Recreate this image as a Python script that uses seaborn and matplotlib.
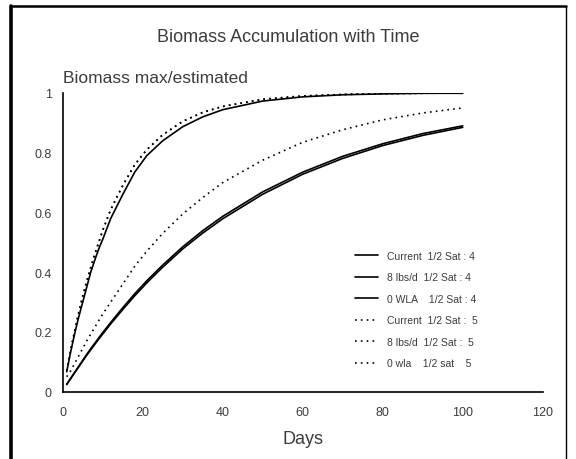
import matplotlib
matplotlib.use("Agg")
import matplotlib.pyplot as plt
import pandas as pd
import seaborn as sns
from matplotlib.lines import Line2D

# Simulated biomass (fraction of maximum) by day for each scenario
days = [1, 2, 3, 4, 5, 6, 7, 8, 9, 10, 12, 15, 18, 21, 25, 30, 35, 40, 50, 60, 70, 80, 90, 100]

current_sat4 = [0.025, 0.045, 0.065, 0.085, 0.105, 0.125, 0.144, 0.162, 0.180, 0.198, 0.232,
                0.281, 0.328, 0.371, 0.424, 0.485, 0.539, 0.587, 0.669, 0.735, 0.788, 0.830,
                0.864, 0.890]
lbs8_sat4 = [0.024, 0.044, 0.064, 0.083, 0.103, 0.122, 0.140, 0.158, 0.176, 0.193, 0.227,
             0.275, 0.321, 0.364, 0.417, 0.478, 0.531, 0.579, 0.661, 0.728, 0.781, 0.824,
             0.858, 0.885]
wla0_sat4 = [0.067, 0.134, 0.195, 0.250, 0.300, 0.350, 0.400, 0.440, 0.478, 0.510, 0.580,
             0.660, 0.735, 0.790, 0.840, 0.887, 0.920, 0.944, 0.973, 0.987, 0.994, 0.997,
             0.999, 0.999]
current_sat5 = [0.050, 0.070, 0.095, 0.120, 0.145, 0.170, 0.193, 0.215, 0.238, 0.260, 0.300,
                0.360, 0.420, 0.470, 0.530, 0.595, 0.650, 0.700, 0.775, 0.835, 0.877, 0.910,
                0.933, 0.950]
lbs8_sat5 = [0.070, 0.140, 0.205, 0.265, 0.320, 0.370, 0.415, 0.460, 0.500, 0.540, 0.610,
             0.690, 0.760, 0.810, 0.860, 0.905, 0.935, 0.955, 0.979, 0.990, 0.995, 0.998,
             0.999, 1.000]
wla0_sat5 = [0.070, 0.140, 0.205, 0.265, 0.320, 0.370, 0.415, 0.460, 0.500, 0.540, 0.610,
             0.690, 0.760, 0.810, 0.860, 0.905, 0.935, 0.955, 0.979, 0.990, 0.995, 0.998,
             0.999, 1.000]

labels = ["Current  1/2 Sat : 4", "8 lbs/d  1/2 Sat : 4", "0 WLA    1/2 Sat : 4",
          "Current  1/2 Sat :  5", "8 lbs/d  1/2 Sat :  5", "0 wla    1/2 sat    5"]
values = [current_sat4, lbs8_sat4, wla0_sat4, current_sat5, lbs8_sat5, wla0_sat5]

x_ticks = [0, 20, 40, 60, 80, 100, 120]
y_ticks = [0, 0.2, 0.4, 0.6, 0.8, 1]
y_tick_labels = ["0", "0.2", "0.4", "0.6", "0.8", "1"]

frames = []
for name, vals in zip(labels, values):
    frames.append(pd.DataFrame({"Day": days, "Biomass": vals, "Series": name}))
df = pd.concat(frames, ignore_index=True)

sns.set_style("white")
plt.rcParams["font.family"] = ["Liberation Sans", "DejaVu Sans"]
text_col = "#3c3c3c"

fig = plt.figure(figsize=(5.76, 4.60), dpi=100)
ax = fig.add_axes([0.1089, 0.1463, 0.8333, 0.6494])

DOT = (1, 2.5)
dashes = {name: ("" if "4" in name.split(":")[-1] else DOT) for name in labels}
sns.lineplot(data=df, x="Day", y="Biomass", hue="Series", style="Series",
             palette={n: "black" for n in labels}, dashes=dashes,
             linewidth=1.2, legend=False, ax=ax, sort=False)

ax.set_xlim(0, 120)
ax.set_ylim(0, 1)
ax.set_xticks(x_ticks)
ax.set_xticklabels([str(t) for t in x_ticks])
ax.set_yticks(y_ticks)
ax.set_yticklabels(y_tick_labels)
ax.tick_params(axis="both", direction="in", length=5, width=1.2, colors="black",
               labelcolor=text_col, labelsize=9)
ax.tick_params(axis="x", pad=10)
ax.tick_params(axis="y", pad=8)
for side in ("top", "right"):
    ax.spines[side].set_visible(False)
for side in ("left", "bottom"):
    ax.spines[side].set_linewidth(1.2)
    ax.spines[side].set_color("black")
ax.set_xlabel("Days", fontsize=13, color=text_col, labelpad=9)
ax.set_ylabel("")

fig.text(0.5, 0.918, "Biomass Accumulation with Time", ha="center", va="center",
         fontsize=13, color=text_col)
fig.text(0.1089, 0.812, "Biomass max/estimated", ha="left", va="bottom",
         fontsize=12.5, color=text_col)

handles = [Line2D([], [], color="black", linewidth=1.2,
                  linestyle="-" if dashes[n] == "" else (0, DOT)) for n in labels]
ax.legend(handles, labels, loc="upper left", bbox_to_anchor=(0.60, 0.485),
          frameon=False, fontsize=7.5, labelcolor=text_col, handlelength=2.2,
          handletextpad=0.9, labelspacing=1.1, borderaxespad=0)

# Page frame around the chart
fig.add_artist(Line2D([11 / 576, 11 / 576], [0, 1 - 7 / 460], transform=fig.transFigure,
                      color="black", linewidth=2.6))
fig.add_artist(Line2D([11 / 576, 566 / 576], [1 - 7 / 460, 1 - 7 / 460],
                      transform=fig.transFigure, color="black", linewidth=1.8))
fig.add_artist(Line2D([566 / 576, 566 / 576], [1 - 7 / 460, 0],
                      transform=fig.transFigure, color="black", linewidth=1.0))

fig.savefig("out.png", dpi=100)
